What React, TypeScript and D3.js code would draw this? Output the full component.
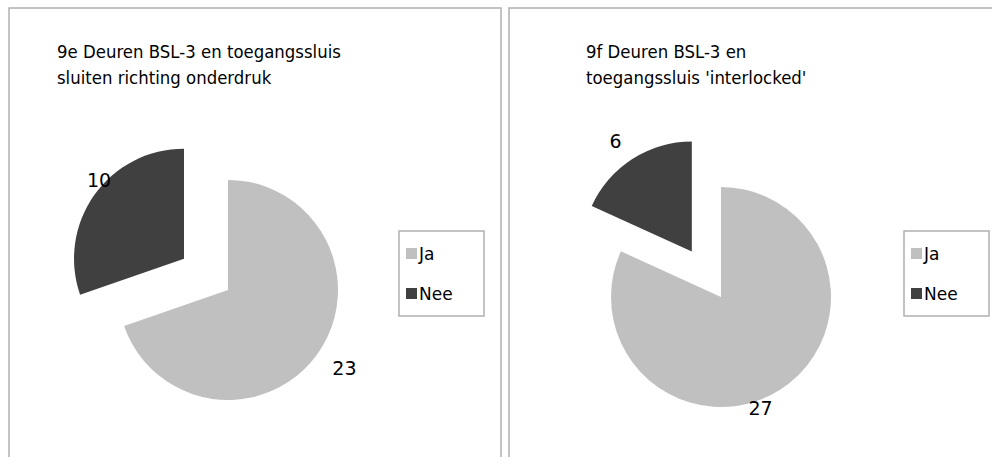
import React from "react";
import * as d3 from "d3";

const categories = ["Ja", "Nee"];
const valuesLeft = [23, 10];
const valuesRight = [27, 6];
const titleLeft = ["9e Deuren BSL-3 en toegangssluis", "sluiten richting onderdruk"];
const titleRight = ["9f Deuren BSL-3 en", "toegangssluis 'interlocked'"];

const colors = ["#c0c0c0", "#404040"];
const FONT = "Verdana, 'DejaVu Sans', sans-serif";

type PanelProps = {
  x0: number;
  w: number;
  values: number[];
  title: string[];
  titleX: number;
  cx: number;
  cy: number;
  legendX: number;
  labelPos: { r: number; dAngle: number }[];
};

function Panel({ x0, w, values, title, titleX, cx, cy, legendX, labelPos }: PanelProps) {
  const r = 110;
  const explode = 54;
  const pie = d3.pie<number>().sort(null).value((d) => d)(values);
  const arc = d3.arc<d3.PieArcDatum<number>>().innerRadius(0).outerRadius(r);
  return (
    <g>
      <rect x={x0} y={8} width={w} height={470} fill="#fff" stroke="#b0b0b0" strokeWidth={1.5} />
      <text fontFamily={FONT} fontSize={18} fill="#000" transform={`translate(${titleX},0) scale(0.92,1)`}>
        {title.map((t, i) => (
          <tspan key={i} x={0} y={58 + i * 26}>
            {t}
          </tspan>
        ))}
      </text>
      {pie.map((p, i) => {
        const mid = (p.startAngle + p.endAngle) / 2;
        const off = i === 1 ? explode : 0;
        const ox = cx + Math.sin(mid) * off;
        const oy = cy - Math.cos(mid) * off;
        const la = mid + labelPos[i].dAngle;
        const lx = ox + Math.sin(la) * labelPos[i].r;
        const ly = oy - Math.cos(la) * labelPos[i].r;
        return (
          <g key={i}>
            <path d={arc(p) || ""} transform={`translate(${ox},${oy})`} fill={colors[i]} />
            <text x={lx} y={ly} textAnchor="middle" dominantBaseline="central" fontFamily={FONT} fontSize={19} fill="#000">
              {values[i]}
            </text>
          </g>
        );
      })}
      <rect x={legendX} y={231} width={85} height={85} fill="#fff" stroke="#b0b0b0" strokeWidth={1.5} />
      {categories.map((c, i) => (
        <g key={c}>
          <rect x={legendX + 7} y={248 + i * 40} width={11} height={11} fill={colors[i]} />
          <text x={legendX + 20} y={260 + i * 40} fontFamily={FONT} fontSize={17} fill="#000">
            {c}
          </text>
        </g>
      ))}
    </g>
  );
}

export default function App() {
  return (
    <svg width={992} height={457} style={{ position: "absolute", left: 0, top: 0, background: "#fff" }}>
      <rect x={0} y={0} width={992} height={457} fill="#fff" />
      <Panel
        x0={9}
        w={492}
        values={valuesLeft}
        title={titleLeft}
        titleX={57}
        cx={228}
        cy={290}
        legendX={399}
        labelPos={[
          { r: 140, dAngle: -0.03 },
          { r: 116, dAngle: 0.13 },
        ]}
      />
      <Panel
        x0={509}
        w={500}
        values={valuesRight}
        title={titleRight}
        titleX={586}
        cx={721}
        cy={297}
        legendX={904}
        labelPos={[
          { r: 118, dAngle: 0.23 },
          { r: 134, dAngle: -0.035 },
        ]}
      />
    </svg>
  );
}
